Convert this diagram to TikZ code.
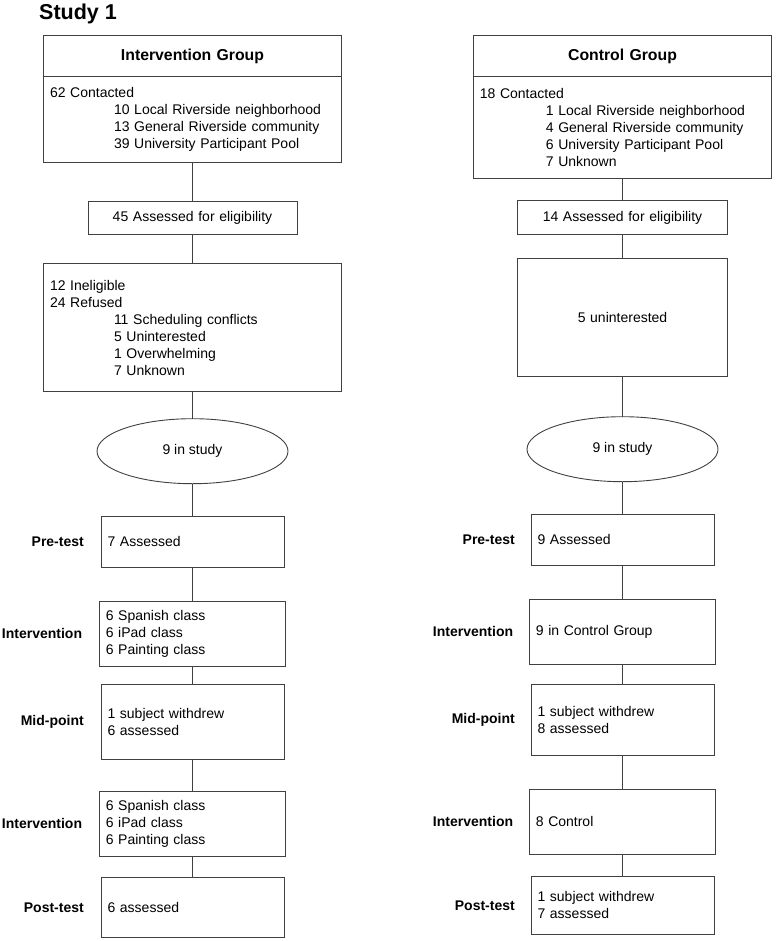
\documentclass[tikz,border=0pt]{standalone}
\usepackage{fontspec}
\setmainfont{Liberation Sans}
\usetikzlibrary{shapes.geometric, positioning}

\tikzset{
  box/.style={draw=black!75, line width=0.9pt, rectangle, align=left, inner xsep=6.5pt, inner ysep=0pt, outer sep=0pt},
  grouphead/.style={box, align=center, font=\bfseries\fontsize{15.8}{19}\selectfont},
  cohort/.style={draw=black!75, line width=0.9pt, ellipse, inner sep=0pt, outer sep=0pt, minimum width=191pt, minimum height=65pt},
  stage/.style={font=\bfseries, inner sep=0pt},
  link/.style={draw=black!75, line width=0.9pt},
}

\begin{document}
\fontsize{14}{17}\selectfont
\begin{tikzpicture}[x=1pt, y=-1pt]
\useasboundingbox (0,0) rectangle (776,941);

\node[anchor=base west, inner sep=0pt, font=\bfseries\fontsize{21.5}{24}\selectfont] (title) at (39,19.5) {Study 1};

% intervention column
\node[grouphead, text width=285pt, minimum height=41pt, anchor=north] (ig) at (192.5,35.5) {Intervention Group};
\node[box, text width=285pt, minimum height=86pt, below=0pt of ig] (igbody) {62 Contacted\\
  \hspace*{64pt}10 Local Riverside neighborhood\\
  \hspace*{64pt}13 General Riverside community\\
  \hspace*{64pt}39 University Participant Pool};
\node[box, align=center, text width=196pt, minimum height=33pt, below=38.5pt of igbody] (ielig) {45 Assessed for eligibility};
\node[box, text width=285pt, minimum height=128.4pt, below=29.3pt of ielig] (iref) {12 Ineligible\\
  24 Refused\\
  \hspace*{64pt}11 Scheduling conflicts\\
  \hspace*{64pt}5 Uninterested\\
  \hspace*{64pt}1 Overwhelming\\
  \hspace*{64pt}7 Unknown};
\node[cohort, below=27pt of iref] (istudy) {9 in study};
\node[box, text width=170pt, minimum height=51.7pt, below=32.3pt of istudy] (ipre) {7 Assessed};
\node[box, text width=173.4pt, minimum height=65pt, below=33.3pt of ipre] (iclass) {6 Spanish class\\ 6 iPad class\\ 6 Painting class};
\node[box, text width=170pt, minimum height=75pt, below=18.3pt of iclass] (imid) {1 subject withdrew\\ 6 assessed};
\node[box, text width=173.4pt, minimum height=65pt, below=31.7pt of imid] (iclass2) {6 Spanish class\\ 6 iPad class\\ 6 Painting class};
\node[box, text width=170pt, minimum height=60pt, below=21.7pt of iclass2] (ipost) {6 assessed};

\node[stage, left=17pt of ipre] (ipretag) {Pre-test};
\node[stage, left=17pt of iclass] (iclasstag) {Intervention};
\node[stage, left=17pt of imid] (imidtag) {Mid-point};
\node[stage, left=17pt of iclass2] (iclass2tag) {Intervention};
\node[stage, left=17pt of ipost] (iposttag) {Post-test};

% control column
\node[grouphead, text width=285.4pt, minimum height=41pt, anchor=north] (cg) at (622.5,35.5) {Control Group};
\node[box, text width=285.4pt, minimum height=101.8pt, below=0pt of cg] (cgbody) {18 Contacted\\
  \hspace*{66pt}1 Local Riverside neighborhood\\
  \hspace*{66pt}4 General Riverside community\\
  \hspace*{66pt}6 University Participant Pool\\
  \hspace*{66pt}7 Unknown};
\node[box, align=center, text width=196.7pt, minimum height=34pt, below=22.2pt of cgbody] (celig) {14 Assessed for eligibility};
\node[box, align=center, text width=196.7pt, minimum height=118.7pt, below=23.5pt of celig] (cref) {5 uninterested};
\node[cohort, below=40pt of cref] (cstudy) {9 in study};
\node[box, text width=170pt, minimum height=51.7pt, below=32.3pt of cstudy] (cpre) {9 Assessed};
\node[box, text width=173.4pt, minimum height=65pt, below=33.3pt of cpre] (cctl) {9 in Control Group};
\node[box, text width=170pt, minimum height=71pt, below=20.3pt of cctl] (cmid) {1 subject withdrew\\ 8 assessed};
\node[box, text width=173.4pt, minimum height=65pt, below=33.7pt of cmid] (cctl2) {8 Control};
\node[box, text width=170pt, minimum height=57.3pt, below=22.7pt of cctl2] (cpost) {1 subject withdrew\\ 7 assessed};

\node[stage, left=16pt of cpre] (cpretag) {Pre-test};
\node[stage, left=16pt of cctl] (cctltag) {Intervention};
\node[stage, left=16pt of cmid] (cmidtag) {Mid-point};
\node[stage, left=16pt of cctl2] (cctl2tag) {Intervention};
\node[stage, left=16pt of cpost] (cposttag) {Post-test};

% connectors
\draw[link] (igbody) -- (ielig);
\draw[link] (ielig) -- (iref);
\draw[link] (iref) -- (istudy);
\draw[link] (istudy) -- (ipre);
\draw[link] (ipre) -- (iclass);
\draw[link] (iclass) -- (imid);
\draw[link] (imid) -- (iclass2);
\draw[link] (iclass2) -- (ipost);

\draw[link] (cgbody) -- (celig);
\draw[link] (celig) -- (cref);
\draw[link] (cref) -- (cstudy);
\draw[link] (cstudy) -- (cpre);
\draw[link] (cpre) -- (cctl);
\draw[link] (cctl) -- (cmid);
\draw[link] (cmid) -- (cctl2);
\draw[link] (cctl2) -- (cpost);
\end{tikzpicture}
\end{document}
